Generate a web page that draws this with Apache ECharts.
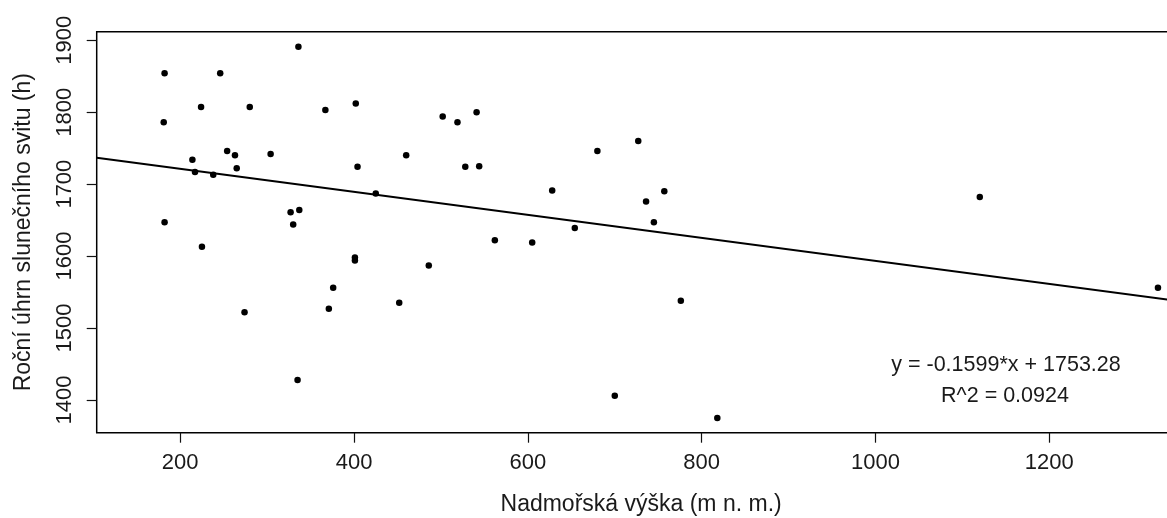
<!DOCTYPE html>
<html><head><meta charset="utf-8">
<script src="https://cdn.jsdelivr.net/npm/echarts@6/dist/echarts.min.js"></script>
<style>html,body{margin:0;padding:0;background:#fff}#c{width:1167px;height:518px}</style>
</head><body><div id="c"></div>
<script>
// Elevation (m n. m.) and annual sunshine (h)
const elevation = [182, 336, 246, 224, 280, 367, 402, 181, 214, 217, 238, 254, 263, 265, 304, 404, 425, 182, 327, 337, 330, 225,
  401, 401, 376, 371, 274, 335, 452,
  460, 502, 519, 541, 528, 544, 628, 680, 727, 757, 736, 745, 654, 562, 605,
  486, 776, 700, 818,
  1120, 1325];
const sunshine = [1854, 1891, 1854, 1807, 1807, 1803, 1812, 1786, 1734, 1717, 1713, 1746, 1740, 1722, 1742, 1724, 1687, 1647, 1661, 1664, 1644, 1613,
  1598, 1594, 1556, 1527, 1522, 1428, 1535,
  1740, 1794, 1786, 1800, 1724, 1725, 1691, 1746, 1760, 1690, 1676, 1647, 1639, 1622, 1619,
  1587, 1538, 1406, 1375,
  1682, 1556];
const xTicks = [200, 400, 600, 800, 1000, 1200];
const yTicks = [1400, 1500, 1600, 1700, 1800, 1900];
const xRange = [103.9, 1356.7];
const yRange = [1354.6, 1911.8];
const slope = -0.1599;
const intercept = 1753.28;
const rSquared = 0.0924;
const xName = 'Nadmořská výška (m n. m.)';
const yName = 'Roční úhrn slunečního svitu (h)';

const FONT = '"Liberation Sans", Arial, sans-serif';
const points = elevation.map((x, i) => [x, sunshine[i]]);
const fitLine = xRange.map(x => [x, slope * x + intercept]);
const plain = v => String(v);

const chart = echarts.init(document.getElementById('c'), null, {renderer: 'canvas'});
chart.setOption({
  animation: false,
  backgroundColor: '#fff',
  grid: {
    left: 96.7, top: 31.7, right: -18.5, bottom: 85.3,
    show: true, borderColor: '#000', borderWidth: 1.5, backgroundColor: 'transparent',
    containLabel: false, outerBoundsMode: 'none'
  },
  xAxis: {
    type: 'value', min: xRange[0], max: xRange[1],
    name: xName, nameLocation: 'middle', nameGap: 60,
    nameTextStyle: {fontFamily: FONT, fontSize: 23, color: '#1a1a1a'},
    axisLine: {show: false},
    axisTick: {show: true, length: 10, customValues: xTicks, lineStyle: {color: '#111', width: 1.2}},
    axisLabel: {customValues: xTicks, formatter: plain, margin: 19, fontFamily: FONT, fontSize: 22, color: '#1a1a1a'},
    splitLine: {show: false}
  },
  yAxis: {
    type: 'value', min: yRange[0], max: yRange[1],
    name: yName, nameLocation: 'middle', nameGap: 62, nameRotate: 90,
    nameTextStyle: {fontFamily: FONT, fontSize: 23, color: '#1a1a1a'},
    axisLine: {show: false},
    axisTick: {show: true, length: 10, customValues: yTicks, lineStyle: {color: '#111', width: 1.2}},
    axisLabel: {customValues: yTicks, formatter: plain, rotate: 90, margin: 21, fontFamily: FONT, fontSize: 22, color: '#1a1a1a'},
    splitLine: {show: false}
  },
  series: [
    {type: 'line', data: fitLine, showSymbol: false, symbol: 'none', clip: true,
     lineStyle: {color: '#000', width: 2}, silent: true, z: 2},
    {type: 'scatter', data: points, symbol: 'circle', symbolSize: 6.5,
     itemStyle: {color: '#000', opacity: 1}, z: 3}
  ],
  graphic: [
    {type: 'text', x: 1006, y: 365, style: {text: 'y = ' + slope.toFixed(4) + '*x + ' + intercept.toFixed(2),
      font: '21.5px ' + FONT, fill: '#1a1a1a', textAlign: 'center', textVerticalAlign: 'middle'}},
    {type: 'text', x: 1005, y: 396, style: {text: 'R^2 = ' + rSquared.toFixed(4),
      font: '21.5px ' + FONT, fill: '#1a1a1a', textAlign: 'center', textVerticalAlign: 'middle'}}
  ]
});
</script></body></html>
